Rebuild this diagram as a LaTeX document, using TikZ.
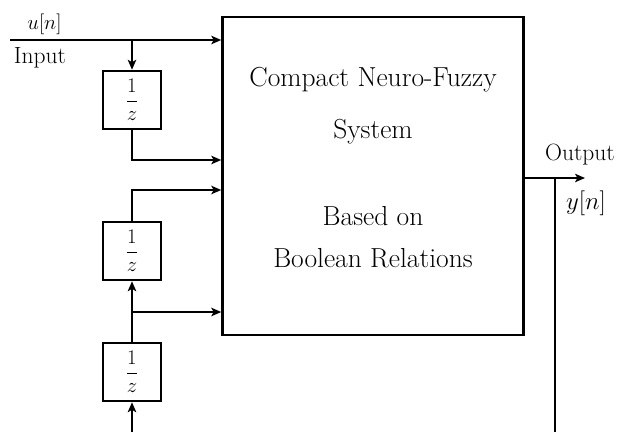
\documentclass[tikz,border=0pt]{standalone}
\usepackage{amsmath}
\usetikzlibrary{arrows.meta}
\begin{document}
\begin{tikzpicture}[x=1pt,y=-1pt, line width=2.5pt,
  font=\fontsize{23.5}{28}\selectfont,
  arr/.style={-{Stealth[length=10pt,width=8.5pt,inset=2.5pt]}},
  delaybox/.style={draw, minimum width=58pt, minimum height=58pt, inner sep=0pt, font=\fontsize{22}{26}\selectfont},
  sysbox/.style={draw, minimum width=301pt, minimum height=318pt, inner sep=0pt},
  main/.style={inner sep=0pt, font=\fontsize{27.5}{32}\selectfont},
  lbl/.style={inner sep=0pt}]
\useasboundingbox (0,0) rectangle (618,432);
\node[sysbox] (sys) at (373,176) {};
\node[main] (t1) at (373,80) {Compact Neuro-Fuzzy};
\node[main] (t2) at (373,132) {System};
\node[main] (t3) at (373,216) {Based on};
\node[main] (t4) at (373,258) {Boolean Relations};
\node[delaybox] (d1) at (132,100) {$\dfrac{1}{z}$};
\node[delaybox] (d2) at (132,251) {$\dfrac{1}{z}$};
\node[delaybox] (d3) at (132,372) {$\dfrac{1}{z}$};
\coordinate (in) at (10,40);
\coordinate (b1) at (132,40);
\coordinate (j1) at (132,160);
\coordinate (j2) at (132,190);
\coordinate (j3) at (132,312);
\coordinate (bot) at (132,432);
\coordinate (o) at (555,178);
\coordinate (oend) at (585,178);
\coordinate (obot) at (555,432);
\draw[arr] (in) -- (in -| sys.west);
\draw[arr] (b1) -- (d1.north);
\draw[arr] (d1.south) -- (j1) -- (j1 -| sys.west);
\draw[arr] (d2.north) -- (j2) -- (j2 -| sys.west);
\draw[arr] (d3.north) -- (d2.south);
\draw[arr] (j3) -- (j3 -| sys.west);
\draw[arr] (bot) -- (d3.south);
\draw[arr] (o -| sys.east) -- (oend);
\draw (o) -- (obot);
\node[lbl, font=\fontsize{21}{25}\selectfont] (u) at (44.5,24) {$u[n]$};
\node[lbl] (inp) at (40,58) {Input};
\node[lbl] (out) at (580,155) {Output};
\node[lbl] (y) at (586,203) {$y[n]$};
\end{tikzpicture}
\end{document}
